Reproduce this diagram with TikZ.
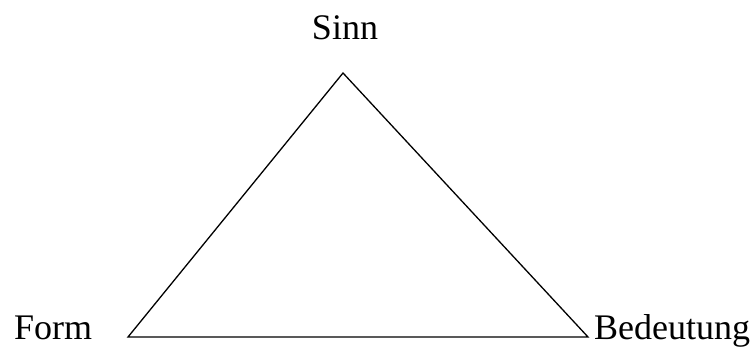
\documentclass[tikz,border=0pt]{standalone}
\usepackage{fontspec}
\setmainfont{Liberation Serif}
\tikzset{lbl/.style={inner sep=0pt,font=\fontsize{36}{42}\selectfont}, tri/.style={draw=black,line width=1.3pt,line join=miter}}
\begin{document}
\begin{tikzpicture}[x=1pt,y=-1pt]
\useasboundingbox (0,0) rectangle (754,347);
\coordinate (top) at (343,73);
\coordinate (left) at (128,337);
\coordinate (right) at (588,337);
\draw[tri] (top) -- (left) -- (right) -- cycle;
\node[lbl,anchor=base] (sinn) at (345,40) {Sinn};
\node[lbl,anchor=base west] (form) at (14,339) {Form};
\node[lbl,anchor=base west] (bed) at (594,339) {Bedeutung};
\end{tikzpicture}
\end{document}
